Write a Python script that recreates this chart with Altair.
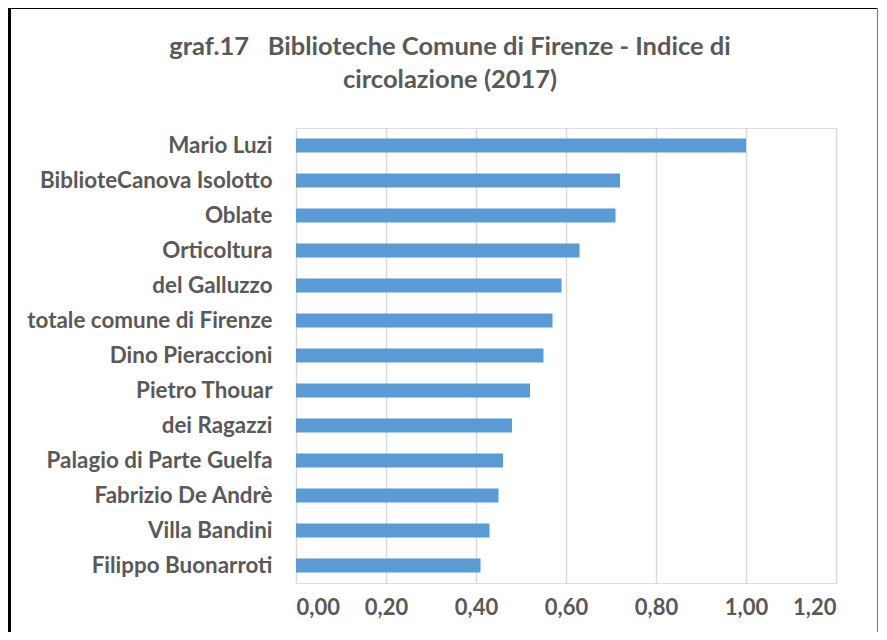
import altair as alt
import pandas as pd

categories = ["Mario Luzi", "BiblioteCanova Isolotto", "Oblate", "Orticoltura",
              "del Galluzzo", "totale comune di Firenze", "Dino Pieraccioni",
              "Pietro Thouar", "dei Ragazzi", "Palagio di Parte Guelfa",
              "Fabrizio De Andrè", "Villa Bandini", "Filippo Buonarroti"]
values = [1.00, 0.72, 0.71, 0.63, 0.59, 0.57, 0.55, 0.52, 0.48, 0.46, 0.45, 0.43, 0.41]
x_ticks = [0, 0.2, 0.4, 0.6, 0.8, 1.0, 1.2]
title_lines = ["graf.17\u00a0\u00a0\u00a0Biblioteche Comune di Firenze - Indice di", "circolazione (2017)"]

df = pd.DataFrame({"cat": categories, "val": values})

FONT = "Lato"
GREY = "#595959"
W, H = 540, 455

bars = alt.Chart(df).mark_bar(color="#5b9bd5").encode(
    x=alt.X("val:Q",
            scale=alt.Scale(domain=[0, 1.2], nice=False),
            axis=alt.Axis(values=x_ticks, title=None, domain=False, ticks=False,
                          grid=True, gridColor="#d9d9d9", gridWidth=1.5,
                          labelExpr="replace(format(datum.value, '.2f'), '.', ',')",
                          labelFont=FONT, labelFontSize=22, labelFontWeight="bold",
                          labelColor=GREY, labelPadding=14)),
    y=alt.Y("cat:N", sort=categories,
            scale=alt.Scale(paddingInner=0.6, paddingOuter=0.3),
            axis=alt.Axis(title=None, domain=False, ticks=False, grid=False,
                          labelFont=FONT, labelFontSize=22.4, labelFontWeight="bold",
                          labelColor=GREY, labelPadding=24, labelLimit=400)),
)

one = pd.DataFrame({"a": [0]})
left_border = alt.Chart(one).mark_rule(color="black", strokeWidth=3, clip=False).encode(
    x=alt.value(-286.5), y=alt.value(-122), y2=alt.value(H + 60))
top_border = alt.Chart(one).mark_rule(color="black", strokeWidth=3, clip=False).encode(
    x=alt.value(-288), x2=alt.value(582), y=alt.value(-120.5))
right_border = alt.Chart(one).mark_rule(color="#808080", strokeWidth=1.2, clip=False).encode(
    x=alt.value(581.5), y=alt.value(-120.5), y2=alt.value(H + 60))

title_layers = []
for i, line in enumerate(title_lines):
    title_layers.append(
        alt.Chart(pd.DataFrame({"t": [line]})).mark_text(
            font=FONT, fontSize=25.5, fontWeight="bold", color=GREY,
            align="center", baseline="middle", clip=False
        ).encode(text="t:N", x=alt.value(154), y=alt.value(-81 + 33 * i))
    )

chart = alt.layer(bars, left_border, top_border, right_border, *title_layers).properties(
    width=W, height=H,
    autosize=alt.AutoSizeParams(type="none"),
    padding={"left": 288, "top": 120, "right": 43, "bottom": 49},
).configure_view(stroke=None).configure(background="white")

chart.save("out.html", embed_options={"renderer": "svg", "actions": False})
